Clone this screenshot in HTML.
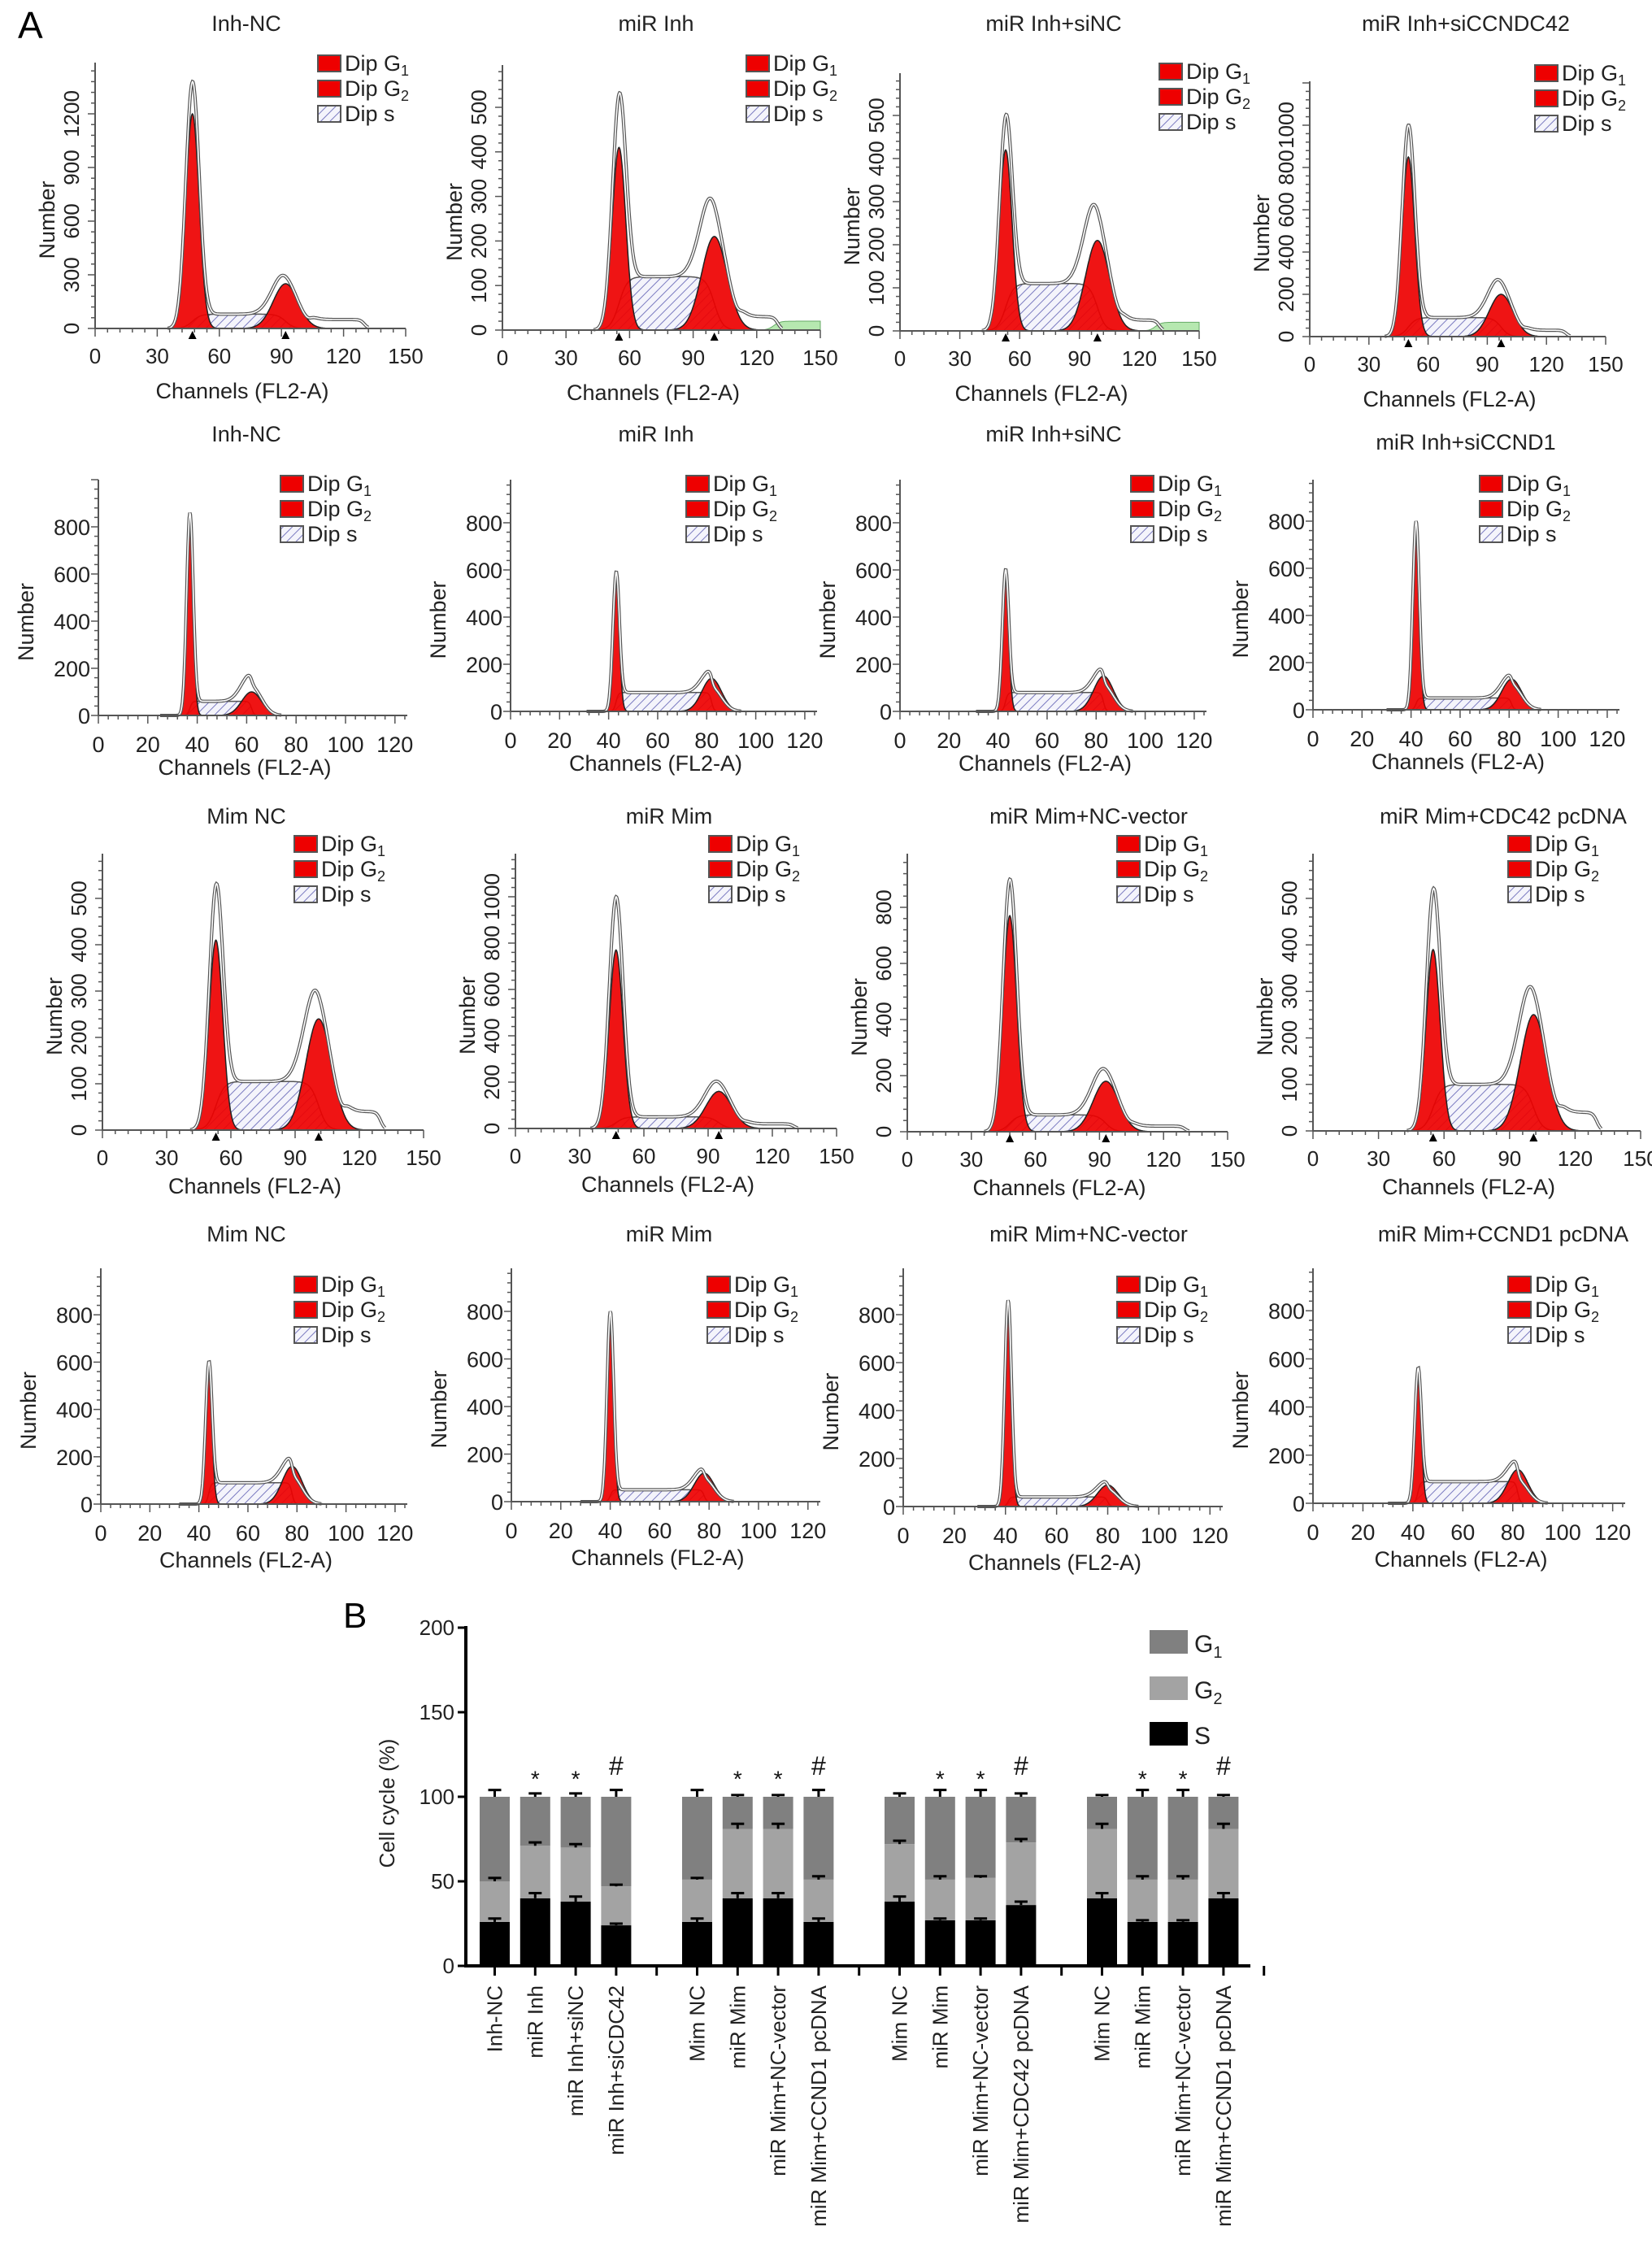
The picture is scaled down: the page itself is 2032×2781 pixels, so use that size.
<!DOCTYPE html>
<html><head><meta charset="utf-8"><title>Cell cycle figure</title>
<style>
html,body{margin:0;padding:0;background:#fff;}
svg{display:block;font-family:"Liberation Sans",Arial,sans-serif;}
</style></head>
<body>
<svg id="fig" width="2032" height="2781" viewBox="0 0 2032 2781" xmlns="http://www.w3.org/2000/svg">
<defs>
<pattern id="hatch" patternUnits="userSpaceOnUse" width="8" height="8" patternTransform="rotate(45)">
<rect width="8" height="8" fill="#f4f4fb"/>
<line x1="0" y1="0" x2="0" y2="8" stroke="#7a7ac0" stroke-width="2"/>
</pattern>
</defs>
<text x="22" y="47" font-size="46">A</text>
<text x="422" y="2002" font-size="44">B</text>
<g id="hists"></g>
<g id="bars"></g>
</svg>
<script>
// ---------- Histogram data ----------
const titles = ["Inh-NC","miR Inh","miR Inh+siNC","miR Inh+siCCNDC42",
"Inh-NC","miR Inh","miR Inh+siNC","miR Inh+siCCND1",
"Mim NC","miR Mim","miR Mim+NC-vector","miR Mim+CDC42 pcDNA",
"Mim NC","miR Mim","miR Mim+NC-vector","miR Mim+CCND1 pcDNA"];
const g1Pos = [47,55,53,50, 37,43,43,42, 53,47,48,55, 44,40,41,42];
const g1Height = [1200,410,420,850, 800,560,580,760, 410,770,770,390, 560,760,820,520];
const g1Total = [1380,530,500,1000, 860,590,600,800, 530,1000,900,520, 600,800,860,560];
const g2Pos = [92,100,99,97, 62,82,83,81, 101,95,93,101, 78,78,80,82];
const g2Height = [250,210,210,200, 100,140,150,130, 240,160,180,250, 160,120,90,140];
const g2Total = [290,280,280,260, 150,140,150,130, 290,200,220,300, 160,120,90,140];
const sLevel = [80,120,110,90, 60,80,80,50, 105,50,60,100, 90,50,40,90];
const tailLevel = [50,30,25,30, 0,0,0,0, 40,20,20,40, 0,0,0,0];
const yTickMax = [1200,500,500,1000, 800,800,800,800, 500,1000,800,500, 800,800,800,800];
const yTickStep = [300,100,100,200, 200,200,200,200, 100,200,200,100, 200,200,200,200];

// ---------- Layout (pixels, not data) ----------
const L_ox = [117,618,1107,1611, 121,628,1107,1615, 126,634,1116,1615, 124,629,1111,1615];
const L_xe = [499,1009,1475,1975, 501,1005,1484,1992, 521,1029,1510,2018, 501,1009,1504,1999];
const L_oy = [404,406,407,414, 880,875,875,873, 1390,1388,1392,1391, 1850,1847,1853,1849];
const L_top = [77,80,90,100, 590,590,590,590, 1050,1050,1050,1050, 1560,1560,1560,1560];
const L_ppu = [0.22,0.548,0.53,0.26, 0.29,0.29,0.29,0.29, 0.57,0.285,0.345,0.572, 0.291,0.2925,0.295,0.296];
const L_legX = [391,918,1426,1888, 345,844,1391,1820, 362,872,1374,1855, 362,870,1374,1855];
const L_legY = [68,68,78,80, 585,585,585,585, 1028,1028,1028,1028, 1570,1570,1570,1570];
const L_titleY = [38,38,38,38, 543,543,543,553, 1013,1013,1013,1013, 1527,1527,1527,1527];
const L_titleX = [303,807,1296,1803, 303,807,1296,1803, 303,823,1339,1849, 303,823,1339,1849];

const NS="http://www.w3.org/2000/svg";
function mk(tag, attrs, parent){const e=document.createElementNS(NS,tag);for(const k in attrs)e.setAttribute(k,attrs[k]);if(parent)parent.appendChild(e);return e;}
function gauss(x,m,s){return Math.exp(-0.5*((x-m)/s)*((x-m)/s));}
const hists=document.getElementById('hists');

for(let p=0;p<16;p++){
  const row=Math.floor(p/4);
  const wide=(row===0||row===2);
  const xMax=wide?150:125, xStep=wide?30:20;
  const ox=L_ox[p], oy=L_oy[p], xe=L_xe[p], ppu=L_ppu[p];
  const X=v=>ox+(xe-ox)*v/xMax;
  const Y=v=>oy-v*ppu;
  const g=mk('g',{},hists);
  
  
  const sd1=wide?3.2:1.3, sd2=wide?6:4, k=wide?4:1;
  const S=x=>sLevel[p]*0.5*(Math.tanh((x-g1Pos[p])/k)-Math.tanh((x-g2Pos[p])/k));
  const T=x=>tailLevel[p]*0.5*(1+Math.tanh((x-g2Pos[p]-12)/2))*0.5*(1-Math.tanh((x-130)/2));
  const G1=x=>g1Height[p]*gauss(x,g1Pos[p],sd1);
  const G2=x=>g2Height[p]*gauss(x,g2Pos[p],sd2);
  const a1=Math.max(0,g1Total[p]-S(g1Pos[p])), a2=Math.max(0,g2Total[p]-S(g2Pos[p]));
  const O=x=>S(x)+T(x)+a1*gauss(x,g1Pos[p],sd1)+a2*gauss(x,g2Pos[p],sd2);
  function area(fn,a,b){let d='M'+X(a).toFixed(1)+','+oy;for(let x=a;x<=b;x+=0.25){d+=' L'+X(x).toFixed(1)+','+Y(fn(x)).toFixed(1);}d+=' L'+X(b).toFixed(1)+','+oy+' Z';return d;}
  function line(fn,a,b){let d='';for(let x=a;x<=b;x+=0.25){d+=(d?' L':'M')+X(x).toFixed(1)+','+Y(fn(x)).toFixed(1);}return d;}
  if(p===1||p===2){const gp=mk('path',{d:area(x=>20*0.5*(1+Math.tanh((x-128)/3)),115,150),fill:'#b6e8b0',stroke:'#6a6',"stroke-width":1},g);
    }
  const sp=mk('path',{d:area(S,g1Pos[p]-20,g2Pos[p]+20),fill:'url(#hatch)',stroke:'#555',"stroke-width":1.5},g);
  
  const r1=mk('path',{d:area(G1,g1Pos[p]-5*sd1,g1Pos[p]+5*sd1),fill:'#ee0000',"fill-opacity":0.92,stroke:'#222',"stroke-width":1.5},g);
  
  const r2=mk('path',{d:area(G2,g2Pos[p]-4*sd2,g2Pos[p]+4*sd2),fill:'#ee0000',"fill-opacity":0.92,stroke:'#222',"stroke-width":1.5},g);
  
  const od=line(O,g1Pos[p]-12,wide?132:g2Pos[p]+12);
  mk('path',{d:od,fill:'none',stroke:'#555',"stroke-width":4},g);
  const ol=mk('path',{d:od,fill:'none',stroke:'#fff',"stroke-width":1.6},g);
  
  mk('line',{x1:ox,y1:L_top[p],x2:ox,y2:oy,stroke:'#555',"stroke-width":2},g);
  mk('line',{x1:ox,y1:oy,x2:xe,y2:oy,stroke:'#555',"stroke-width":2},g);
  const ym=yTickStep[p]/5;
  for(let v=0;Y(v)>=L_top[p];v+=ym){const maj=Math.abs(v/yTickStep[p]-Math.round(v/yTickStep[p]))<1e-6;
    mk('line',{x1:ox-(maj?9:5),y1:Y(v),x2:ox,y2:Y(v),stroke:'#555',"stroke-width":1.5},g);}
  for(let v=0;v<=yTickMax[p];v+=yTickStep[p]){
    let t;
    if(wide){t=mk('text',{x:ox-20,y:Y(v),"font-size":26,"text-anchor":'middle',transform:'rotate(-90 '+(ox-20)+' '+Y(v)+')',fill:'#222'},g);}
    else{t=mk('text',{x:ox-10,y:Y(v)+10,"font-size":27,"text-anchor":'end',fill:'#222'},g);}
    t.textContent=v;}
  for(let v=0;v<=xMax+0.01;v+=xStep/5){const maj=Math.abs(v/xStep-Math.round(v/xStep))<1e-6;
    mk('line',{x1:X(v),y1:oy,x2:X(v),y2:oy+(maj?10:5),stroke:'#555',"stroke-width":1.5},g);}
  for(let v=0;v<=xMax;v+=xStep){const t=mk('text',{x:X(v),y:oy+(wide?43:45),"font-size":wide?26:27,"text-anchor":'middle',fill:'#222'},g);
    t.textContent=v;}
  if(wide){for(const c of [g1Pos[p],g2Pos[p]]){mk('path',{d:'M'+X(c)+','+(oy+3)+' l-5,10 l10,0 z',fill:'#000'},g);}}
  const xl=mk('text',{x:(ox+xe)/2-10,y:oy+(row===0?86:(row===1?73:78)),"font-size":27,"text-anchor":'middle',fill:'#222'},g);
  xl.textContent='Channels (FL2-A)';
  const nx=wide?ox-50:ox-80, ny=(oy+L_top[p])/2+30;
  const yl=mk('text',{x:nx,y:ny,"font-size":27,"text-anchor":'middle',transform:'rotate(-90 '+nx+' '+ny+')',fill:'#222'},g);
  yl.textContent='Number';
  const tt=mk('text',{x:L_titleX[p],y:L_titleY[p],"font-size":27,"text-anchor":'middle',fill:'#222'},g);
  tt.textContent=titles[p];
  const lg=mk('g',{},g);
  const labs=[['Dip G','1'],['Dip G','2'],['Dip s','']];
  for(let i=0;i<3;i++){const by=L_legY[p]+i*31, bx=L_legX[p];
    mk('rect',{x:bx,y:by,width:28,height:20,fill:i<2?'#ee0000':'url(#hatch)',stroke:'#555',"stroke-width":2},lg);
    const t=mk('text',{x:bx+33,y:by+19,"font-size":27,fill:'#222'},lg);
    
    t.appendChild(document.createTextNode(labs[i][0]));
    if(labs[i][1]){const s=mk('tspan',{"font-size":18,dy:6},t);s.textContent=labs[i][1];}}
}

// ---------- Bar chart data ----------
const categories=["Inh-NC","miR Inh","miR Inh+siNC","miR Inh+siCDC42",
"Mim NC","miR Mim","miR Mim+NC-vector","miR Mim+CCND1 pcDNA",
"Mim NC","miR Mim","miR Mim+NC-vector","miR Mim+CDC42 pcDNA",
"Mim NC","miR Mim","miR Mim+NC-vector","miR Mim+CCND1 pcDNA"];
const sVals=[26,40,38,24, 26,40,40,26, 38,27,27,36, 40,26,26,40];
const g2Vals=[24,31,32,23, 25,41,41,25, 34,24,25,37, 41,25,25,41];
const g1Vals=[50,29,30,53, 49,19,19,49, 28,49,48,27, 19,49,49,19];
const errS=[2,3,3,1, 2,3,3,2, 3,1,1,2, 3,1,1,3];
const errG2=[2,2,2,1, 1,3,3,2, 2,2,1,2, 3,2,2,3];
const errG1=[4,2,2,4, 4,1,1,4, 2,4,4,2, 1,4,4,1];
const marks=["","*","*","#", "","*","*","#", "","*","*","#", "","*","*","#"];
const yTicks=[0,50,100,150,200];
const legendLabels=[["G","1"],["G","2"],["S",""]];

const bars=document.getElementById('bars');
const AX=573, AY=2418, PPU=2.08, X0=590, SLOT=49.8, BW=37, XEND=1538;
const by=v=>AY-v*PPU;
const bx=i=>X0+(Math.floor(i/4)*5+i%4)*SLOT;
mk('line',{x1:AX,y1:by(200)-2,x2:AX,y2:AY+2,stroke:'#000',"stroke-width":4},bars);
mk('line',{x1:AX,y1:AY,x2:XEND,y2:AY,stroke:'#000',"stroke-width":4},bars);
for(const v of yTicks){mk('line',{x1:AX-10,y1:by(v),x2:AX,y2:by(v),stroke:'#000',"stroke-width":3},bars);
  const t=mk('text',{x:AX-14,y:by(v)+9,"font-size":26,"text-anchor":'end',fill:'#222'},bars);
  t.textContent=v;}
const cy=mk('text',{x:485,y:2218,"font-size":26,"text-anchor":'middle',transform:'rotate(-90 485 2218)',fill:'#222'},bars);
cy.textContent='Cell cycle (%)';
for(let s=0;s<20;s++){const x=X0+s*SLOT+BW/2;mk('line',{x1:x,y1:AY,x2:x,y2:AY+12,stroke:'#000',"stroke-width":3},bars);}
function errbar(x,v,e){mk('line',{x1:x,y1:by(v),x2:x,y2:by(v+e),stroke:'#000',"stroke-width":3},bars);
  mk('line',{x1:x-8,y1:by(v+e),x2:x+8,y2:by(v+e),stroke:'#000',"stroke-width":3},bars);}
for(let i=0;i<16;i++){
  const x=bx(i), c=x+BW/2;
  const r1=mk('rect',{x:x,y:by(sVals[i]),width:BW,height:sVals[i]*PPU,fill:'#000'},bars);
  
  const r2=mk('rect',{x:x,y:by(sVals[i]+g2Vals[i]),width:BW,height:g2Vals[i]*PPU,fill:'#a3a3a3'},bars);
  
  const top=sVals[i]+g2Vals[i]+g1Vals[i];
  const r3=mk('rect',{x:x,y:by(top),width:BW,height:g1Vals[i]*PPU,fill:'#808080'},bars);
  
  errbar(c,sVals[i],errS[i]);errbar(c,sVals[i]+g2Vals[i],errG2[i]);errbar(c,top,errG1[i]);
  if(marks[i]){const m=mk('text',{x:c,y:marks[i]==='#'?by(top+13):by(top+6),"font-size":marks[i]==='#'?32:28,"text-anchor":'middle',fill:'#111'},bars);
    m.textContent=marks[i];}
  const lx=c+9, ly=AY+24;
  const t=mk('text',{x:lx,y:ly,"font-size":26,"text-anchor":'end',transform:'rotate(-90 '+lx+' '+ly+')',fill:'#222'},bars);
  t.textContent=categories[i];
}
const legFills=['#808080','#a3a3a3','#000'];
const legY=[2005,2062,2118];
for(let i=0;i<3;i++){
  const r=mk('rect',{x:1414,y:legY[i],width:47,height:29,fill:legFills[i]},bars);
  
  const t=mk('text',{x:1469,y:legY[i]+27,"font-size":30,fill:'#222'},bars);
  
  t.appendChild(document.createTextNode(legendLabels[i][0]));
  if(legendLabels[i][1]){const s=mk('tspan',{"font-size":20,dy:7},t);s.textContent=legendLabels[i][1];}
}
</script>
</body></html>
